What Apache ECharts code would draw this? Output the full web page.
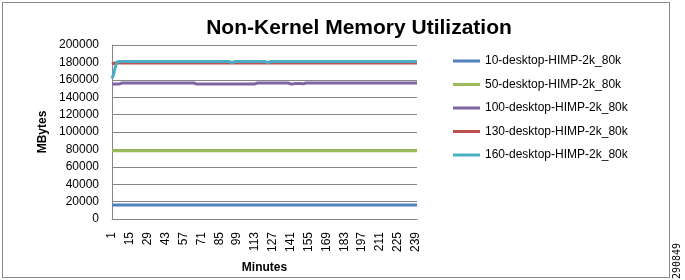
<!DOCTYPE html>
<html>
<head>
<meta charset="utf-8">
<script src="https://cdn.jsdelivr.net/npm/echarts@6/dist/echarts.min.js"></script>
<style>html,body{margin:0;padding:0;background:#fff}#c{width:685px;height:280px}</style>
</head>
<body>
<div id="c"></div>
<script>
const minutes = [
1,2,3,4,5,6,7,8,9,10,11,12,13,14,15,16,17,18,19,20,
21,22,23,24,25,26,27,28,29,30,31,32,33,34,35,36,37,38,39,40,
41,42,43,44,45,46,47,48,49,50,51,52,53,54,55,56,57,58,59,60,
61,62,63,64,65,66,67,68,69,70,71,72,73,74,75,76,77,78,79,80,
81,82,83,84,85,86,87,88,89,90,91,92,93,94,95,96,97,98,99,100,
101,102,103,104,105,106,107,108,109,110,111,112,113,114,115,116,117,118,119,120,
121,122,123,124,125,126,127,128,129,130,131,132,133,134,135,136,137,138,139,140,
141,142,143,144,145,146,147,148,149,150,151,152,153,154,155,156,157,158,159,160,
161,162,163,164,165,166,167,168,169,170,171,172,173,174,175,176,177,178,179,180,
181,182,183,184,185,186,187,188,189,190,191,192,193,194,195,196,197,198,199,200,
201,202,203,204,205,206,207,208,209,210,211,212,213,214,215,216,217,218,219,220,
221,222,223,224,225,226,227,228,229,230,231,232,233,234,235,236,237,238,239,240
];

const seriesNames = ['10-desktop-HIMP-2k_80k','50-desktop-HIMP-2k_80k','100-desktop-HIMP-2k_80k','130-desktop-HIMP-2k_80k','160-desktop-HIMP-2k_80k'];

const desk10 = [
16000,16000,16000,16000,16000,16000,16000,16000,16000,16000,16000,16000,16000,16000,16000,16000,16000,16000,16000,16000,
16000,16000,16000,16000,16000,16000,16000,16000,16000,16000,16000,16000,16000,16000,16000,16000,16000,16000,16000,16000,
16000,16000,16000,16000,16000,16000,16000,16000,16000,16000,16000,16000,16000,16000,16000,16000,16000,16000,16000,16000,
16000,16000,16000,16000,16000,16000,16000,16000,16000,16000,16000,16000,16000,16000,16000,16000,16000,16000,16000,16000,
16000,16000,16000,16000,16000,16000,16000,16000,16000,16000,16000,16000,16000,16000,16000,16000,16000,16000,16000,16000,
16000,16000,16000,16000,16000,16000,16000,16000,16000,16000,16000,16000,16000,16000,16000,16000,16000,16000,16000,16000,
16000,16000,16000,16000,16000,16000,16000,16000,16000,16000,16000,16000,16000,16000,16000,16000,16000,16000,16000,16000,
16000,16000,16000,16000,16000,16000,16000,16000,16000,16000,16000,16000,16000,16000,16000,16000,16000,16000,16000,16000,
16000,16000,16000,16000,16000,16000,16000,16000,16000,16000,16000,16000,16000,16000,16000,16000,16000,16000,16000,16000,
16000,16000,16000,16000,16000,16000,16000,16000,16000,16000,16000,16000,16000,16000,16000,16000,16000,16000,16000,16000,
16000,16000,16000,16000,16000,16000,16000,16000,16000,16000,16000,16000,16000,16000,16000,16000,16000,16000,16000,16000,
16000,16000,16000,16000,16000,16000,16000,16000,16000,16000,16000,16000,16000,16000,16000,16000,16000,16000,16000,16000
];

const desk50 = [
78500,78500,78500,78500,78500,78500,78500,78500,78500,78500,78500,78500,78500,78500,78500,78500,78500,78500,78500,78500,
78500,78500,78500,78500,78500,78500,78500,78500,78500,78500,78500,78500,78500,78500,78500,78500,78500,78500,78500,78500,
78500,78500,78500,78500,78500,78500,78500,78500,78500,78500,78500,78500,78500,78500,78500,78500,78500,78500,78500,78500,
78500,78500,78500,78500,78500,78500,78500,78500,78500,78500,78500,78500,78500,78500,78500,78500,78500,78500,78500,78500,
78500,78500,78500,78500,78500,78500,78500,78500,78500,78500,78500,78500,78500,78500,78500,78500,78500,78500,78500,78500,
78500,78500,78500,78500,78500,78500,78500,78500,78500,78500,78500,78500,78500,78500,78500,78500,78500,78500,78500,78500,
78500,78500,78500,78500,78500,78500,78500,78500,78500,78500,78500,78500,78500,78500,78500,78500,78500,78500,78500,78500,
78500,78500,78500,78500,78500,78500,78500,78500,78500,78500,78500,78500,78500,78500,78500,78500,78500,78500,78500,78500,
78500,78500,78500,78500,78500,78500,78500,78500,78500,78500,78500,78500,78500,78500,78500,78500,78500,78500,78500,78500,
78500,78500,78500,78500,78500,78500,78500,78500,78500,78500,78500,78500,78500,78500,78500,78500,78500,78500,78500,78500,
78500,78500,78500,78500,78500,78500,78500,78500,78500,78500,78500,78500,78500,78500,78500,78500,78500,78500,78500,78500,
78500,78500,78500,78500,78500,78500,78500,78500,78500,78500,78500,78500,78500,78500,78500,78500,78500,78500,78500,78500
];

const desk100 = [
155300,155300,155300,155300,155300,155300,155300,155300,156300,156300,156300,156300,156300,156300,156300,156300,156300,156300,156300,156300,
156300,156300,156300,156300,156300,156300,156300,156300,156300,156300,156300,156300,156300,156300,156300,156300,156300,156300,156300,156300,
156300,156300,156300,156300,156300,156300,156300,156300,156300,156300,156300,156300,156300,156300,156300,156300,156300,156300,156300,156300,
156300,156300,156300,156300,156300,156300,155300,155300,155300,155300,155300,155300,155300,155300,155300,155300,155300,155300,155300,155300,
155300,155300,155300,155300,155300,155300,155300,155300,155300,155300,155300,155300,155300,155300,155300,155300,155300,155300,155300,155300,
155300,155300,155300,155300,155300,155300,155300,155300,155300,155300,155300,155300,155300,156300,156300,156300,156300,156300,156300,156300,
156300,156300,156300,156300,156300,156300,156300,156300,156300,156300,156300,156300,156300,156300,156300,156300,156300,156300,156300,155300,
155300,155300,155300,155300,155800,155800,155800,155800,155800,155300,155300,156300,156300,156300,156300,156300,156300,156300,156300,156300,
156300,156300,156300,156300,156300,156300,156300,156300,156300,156300,156300,156300,156300,156300,156300,156300,156300,156300,156300,156300,
156300,156300,156300,156300,156300,156300,156300,156300,156300,156300,156300,156300,156300,156300,156300,156300,156300,156300,156300,156300,
156300,156300,156300,156300,156300,156300,156300,156300,156300,156300,156300,156300,156300,156300,156300,156300,156300,156300,156300,156300,
156300,156300,156300,156300,156300,156300,156300,156300,156300,156300,156300,156300,156300,156300,156300,156300,156300,156300,156300,156300
];

const desk130 = [
178000,178800,179300,179300,179300,179300,179300,179300,179300,179300,179300,179300,179300,179300,179300,179300,179300,179300,179300,179300,
179300,179300,179300,179300,179300,179300,179300,179300,179300,179300,179300,179300,179300,179300,179300,179300,179300,179300,179300,179300,
179300,179300,179300,179300,179300,179300,179300,179300,179300,179300,179300,179300,179300,179300,179300,179300,179300,179300,179300,179300,
179300,179300,179300,179300,179300,179300,179300,179300,179300,179300,179300,179300,179300,179300,179300,179300,179300,179300,179300,179300,
179300,179300,179300,179300,179300,179300,179300,179300,179300,179300,179300,179300,179300,179300,179300,179300,179300,179300,179300,179300,
179300,179300,179300,179300,179300,179300,179300,179300,179300,179300,179300,179300,179300,179300,179300,179300,179300,179300,179300,179300,
179300,179300,179300,179300,179300,179300,179300,179300,179300,179300,179300,179300,179300,179300,179300,179300,179300,179300,179300,179300,
179300,179300,179300,179300,179300,179300,179300,179300,179300,179300,179300,179300,179300,179300,179300,179300,179300,179300,179300,179300,
179300,179300,179300,179300,179300,179300,179300,179300,179300,179300,179300,179300,179300,179300,179300,179300,179300,179300,179300,179300,
179300,179300,179300,179300,179300,179300,179300,179300,179300,179300,179300,179300,179300,179300,179300,179300,179300,179300,179300,179300,
179300,179300,179300,179300,179300,179300,179300,179300,179300,179300,179300,179300,179300,179300,179300,179300,179300,179300,179300,179300,
179300,179300,179300,179300,179300,179300,179300,179300,179300,179300,179300,179300,179300,179300,179300,179300,179300,179300,179300,179300
];

const desk160 = [
161500,165000,171000,177000,180500,181000,181000,181000,181000,181000,181000,181000,181000,181000,181000,181000,181000,181000,181000,181000,
181000,181000,181000,181000,181000,181000,181000,181000,181000,181000,181000,181000,181000,181000,181000,181000,181000,181000,181000,181000,
181000,181000,181000,181000,181000,181000,181000,181000,181000,181000,181000,181000,181000,181000,181000,181000,181000,181000,181000,181000,
181000,181000,181000,181000,181000,181000,181000,181000,181000,181000,181000,181000,181000,181000,181000,181000,181000,181000,181000,181000,
181000,181000,181000,181000,181000,181000,181000,181000,181000,181000,181000,181000,181000,181000,179800,181000,181000,181000,181000,181000,
181000,181000,181000,181000,181000,181000,181000,181000,181000,181000,181000,181000,181000,181000,181000,181000,181000,181000,181000,181000,
181000,181000,179800,181000,181000,181000,181000,181000,181000,181000,181000,181000,181000,181000,181000,181000,181000,181000,181000,181000,
181000,181000,181000,181000,181000,181000,181000,181000,181000,181000,181000,181000,181000,181000,181000,181000,181000,181000,181000,181000,
181000,181000,181000,181000,181000,181000,181000,181000,181000,181000,181000,181000,181000,181000,181000,181000,181000,181000,181000,181000,
181000,181000,181000,181000,181000,181000,181000,181000,181000,181000,181000,181000,181000,181000,181000,181000,181000,181000,181000,181000,
181000,181000,181000,181000,181000,181000,181000,181000,181000,181000,181000,181000,181000,181000,181000,181000,181000,181000,181000,181000,
181000,181000,181000,181000,181000,181000,181000,181000,181000,181000,181000,181000,181000,181000,181000,181000,181000,181000,181000,181000
];

const colors = ['#4F81BD','#9BBB59','#8064A2','#C0504D','#4BACC6'];
const allData = [desk10, desk50, desk100, desk130, desk160];

const chart = echarts.init(document.getElementById('c'), null, {renderer:'canvas'});
const FONT = 'Liberation Sans, Arial, sans-serif';
chart.setOption({
  animation: false,
  backgroundColor: '#fff',
  color: colors,
  title: {
    text: 'Non-Kernel Memory Utilization',
    left: 354, top: 13, textAlign: 'center',
    textStyle: {fontFamily: FONT, fontSize: 21, fontWeight: 'bold', color: '#000'}
  },
  legend: {
    orient: 'vertical', left: 453, top: 54, itemGap: 9.5, padding: 0,
    itemWidth: 27, itemHeight: 3, icon: 'rect',
    textStyle: {fontFamily: FONT, fontSize: 12, color: '#000', lineHeight: 14},
    data: seriesNames
  },
  grid: {left: 112, right: 268, top: 45, bottom: 61, containLabel: false, outerBoundsMode: 'none'},
  xAxis: {
    type: 'category', data: minutes, boundaryGap: false,
    name: 'Minutes', nameLocation: 'middle', nameGap: 43,
    nameTextStyle: {fontFamily: FONT, fontSize: 12, fontWeight: 'bold', color: '#000'},
    axisLine: {lineStyle: {color: '#868686', width: 1}},
    axisTick: {show: false},
    axisLabel: {interval: 13, rotate: 90, margin: 13, fontFamily: FONT, fontSize: 12, color: '#000'},
    splitLine: {show: false}
  },
  yAxis: {
    type: 'value', min: 0, max: 200000, interval: 20000,
    name: 'MBytes', nameLocation: 'middle', nameGap: 63, nameRotate: 90,
    nameTextStyle: {fontFamily: FONT, fontSize: 12, fontWeight: 'bold', color: '#000'},
    axisLine: {show: true, lineStyle: {color: '#868686', width: 1}},
    axisTick: {show: false},
    axisLabel: {margin: 13, fontFamily: FONT, fontSize: 12, color: '#000', formatter: v => String(v)},
    splitLine: {lineStyle: {color: '#868686', width: 1}}
  },
  series: allData.map((d, i) => ({
    name: seriesNames[i], type: 'line', data: d,
    showSymbol: false, symbol: 'none',
    lineStyle: {width: 3, color: colors[i]},
    itemStyle: {color: colors[i]}
  })),
  graphic: [
    {type: 'rect', shape: {x: 2.5, y: 2.5, width: 667, height: 275}, style: {fill: 'none', stroke: '#888', lineWidth: 1}, silent: true, z: 100},
    {type: 'text', x: 677, y: 261, rotation: Math.PI/2, style: {text: '290849', font: '10px "DejaVu Sans Mono"', fill: '#000', align: 'center', verticalAlign: 'middle'}, silent: true}
  ]
});
</script>
</body>
</html>
